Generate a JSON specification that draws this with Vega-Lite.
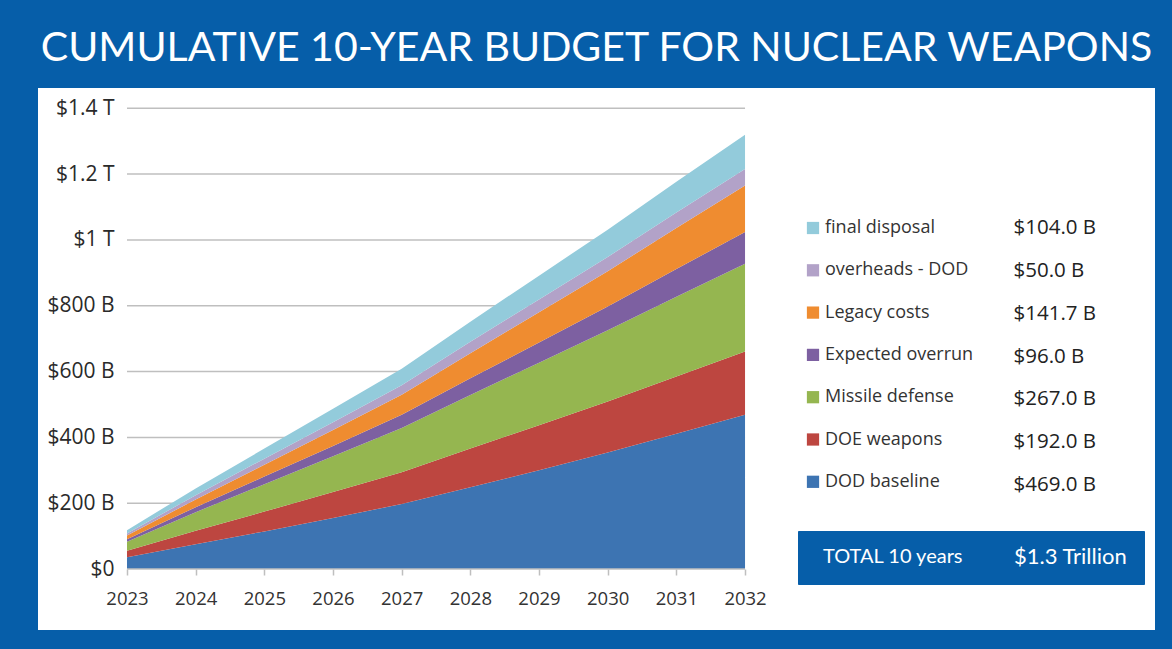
{
  "$schema": "https://vega.github.io/schema/vega-lite/v6.json",
  "width": 1117,
  "height": 542,
  "autosize": {"type": "none"},
  "padding": {"left": 38, "top": 88, "right": 17, "bottom": 19},
  "background": "#065ea9",
  "title": {
    "text": "CUMULATIVE 10-YEAR BUDGET FOR NUCLEAR WEAPONS",
    "color": "white", "font": "Lato", "fontSize": 41, "fontWeight": "normal",
    "anchor": "middle", "frame": "group", "baseline": "alphabetic", "offset": -14
  },
  "config": {"view": {"stroke": null}},
  "datasets": {
    "areas": [
      {"year": 2023, "series": "DOD baseline", "o": 1, "value": 35.4},
      {"year": 2024, "series": "DOD baseline", "o": 1, "value": 75.0},
      {"year": 2025, "series": "DOD baseline", "o": 1, "value": 114.3},
      {"year": 2026, "series": "DOD baseline", "o": 1, "value": 155.0},
      {"year": 2027, "series": "DOD baseline", "o": 1, "value": 197.6},
      {"year": 2028, "series": "DOD baseline", "o": 1, "value": 248.6},
      {"year": 2029, "series": "DOD baseline", "o": 1, "value": 300.3},
      {"year": 2030, "series": "DOD baseline", "o": 1, "value": 353.8},
      {"year": 2031, "series": "DOD baseline", "o": 1, "value": 411.0},
      {"year": 2032, "series": "DOD baseline", "o": 1, "value": 469.0},
      {"year": 2023, "series": "DOE weapons", "o": 2, "value": 20.1},
      {"year": 2024, "series": "DOE weapons", "o": 2, "value": 41.0},
      {"year": 2025, "series": "DOE weapons", "o": 2, "value": 60.2},
      {"year": 2026, "series": "DOE weapons", "o": 2, "value": 78.7},
      {"year": 2027, "series": "DOE weapons", "o": 2, "value": 96.8},
      {"year": 2028, "series": "DOE weapons", "o": 2, "value": 117.4},
      {"year": 2029, "series": "DOE weapons", "o": 2, "value": 136.7},
      {"year": 2030, "series": "DOE weapons", "o": 2, "value": 155.4},
      {"year": 2031, "series": "DOE weapons", "o": 2, "value": 174.1},
      {"year": 2032, "series": "DOE weapons", "o": 2, "value": 192.0},
      {"year": 2023, "series": "Missile defense", "o": 3, "value": 27.7},
      {"year": 2024, "series": "Missile defense", "o": 3, "value": 56.7},
      {"year": 2025, "series": "Missile defense", "o": 3, "value": 83.3},
      {"year": 2026, "series": "Missile defense", "o": 3, "value": 109.1},
      {"year": 2027, "series": "Missile defense", "o": 3, "value": 134.2},
      {"year": 2028, "series": "Missile defense", "o": 3, "value": 163.0},
      {"year": 2029, "series": "Missile defense", "o": 3, "value": 190.0},
      {"year": 2030, "series": "Missile defense", "o": 3, "value": 216.0},
      {"year": 2031, "series": "Missile defense", "o": 3, "value": 242.3},
      {"year": 2032, "series": "Missile defense", "o": 3, "value": 267.0},
      {"year": 2023, "series": "Expected overrun", "o": 4, "value": 7.1},
      {"year": 2024, "series": "Expected overrun", "o": 4, "value": 15.0},
      {"year": 2025, "series": "Expected overrun", "o": 4, "value": 23.0},
      {"year": 2026, "series": "Expected overrun", "o": 4, "value": 31.3},
      {"year": 2027, "series": "Expected overrun", "o": 4, "value": 40.1},
      {"year": 2028, "series": "Expected overrun", "o": 4, "value": 50.5},
      {"year": 2029, "series": "Expected overrun", "o": 4, "value": 61.3},
      {"year": 2030, "series": "Expected overrun", "o": 4, "value": 72.3},
      {"year": 2031, "series": "Expected overrun", "o": 4, "value": 84.3},
      {"year": 2032, "series": "Expected overrun", "o": 4, "value": 96.0},
      {"year": 2023, "series": "Legacy costs", "o": 5, "value": 11.2},
      {"year": 2024, "series": "Legacy costs", "o": 5, "value": 23.6},
      {"year": 2025, "series": "Legacy costs", "o": 5, "value": 35.8},
      {"year": 2026, "series": "Legacy costs", "o": 5, "value": 48.2},
      {"year": 2027, "series": "Legacy costs", "o": 5, "value": 61.1},
      {"year": 2028, "series": "Legacy costs", "o": 5, "value": 76.5},
      {"year": 2029, "series": "Legacy costs", "o": 5, "value": 91.9},
      {"year": 2030, "series": "Legacy costs", "o": 5, "value": 107.6},
      {"year": 2031, "series": "Legacy costs", "o": 5, "value": 124.5},
      {"year": 2032, "series": "Legacy costs", "o": 5, "value": 141.7},
      {"year": 2023, "series": "overheads - DOD", "o": 6, "value": 6.5},
      {"year": 2024, "series": "overheads - DOD", "o": 6, "value": 13.0},
      {"year": 2025, "series": "overheads - DOD", "o": 6, "value": 18.7},
      {"year": 2026, "series": "overheads - DOD", "o": 6, "value": 24.0},
      {"year": 2027, "series": "overheads - DOD", "o": 6, "value": 28.9},
      {"year": 2028, "series": "overheads - DOD", "o": 6, "value": 34.3},
      {"year": 2029, "series": "overheads - DOD", "o": 6, "value": 39.0},
      {"year": 2030, "series": "overheads - DOD", "o": 6, "value": 43.1},
      {"year": 2031, "series": "overheads - DOD", "o": 6, "value": 47.0},
      {"year": 2032, "series": "overheads - DOD", "o": 6, "value": 50.0},
      {"year": 2023, "series": "final disposal", "o": 7, "value": 10.0},
      {"year": 2024, "series": "final disposal", "o": 7, "value": 20.7},
      {"year": 2025, "series": "final disposal", "o": 7, "value": 30.6},
      {"year": 2026, "series": "final disposal", "o": 7, "value": 40.4},
      {"year": 2027, "series": "final disposal", "o": 7, "value": 50.1},
      {"year": 2028, "series": "final disposal", "o": 7, "value": 61.4},
      {"year": 2029, "series": "final disposal", "o": 7, "value": 72.3},
      {"year": 2030, "series": "final disposal", "o": 7, "value": 82.9},
      {"year": 2031, "series": "final disposal", "o": 7, "value": 93.9},
      {"year": 2032, "series": "final disposal", "o": 7, "value": 104.0}
    ],
    "grid": [{"v": 200}, {"v": 400}, {"v": 600}, {"v": 800}, {"v": 1000}, {"v": 1200}, {"v": 1400}],
    "totals": [
      {"series": "final disposal", "amount": "$104.0 B"},
      {"series": "overheads - DOD", "amount": "$50.0 B"},
      {"series": "Legacy costs", "amount": "$141.7 B"},
      {"series": "Expected overrun", "amount": "$96.0 B"},
      {"series": "Missile defense", "amount": "$267.0 B"},
      {"series": "DOE weapons", "amount": "$192.0 B"},
      {"series": "DOD baseline", "amount": "$469.0 B"}
    ],
    "overall": [{"label": "TOTAL 10 years", "amount": "$1.3 Trillion"}]
  },
  "layer": [
    {
      "data": {"values": [{"panel": "white"}]},
      "mark": {"type": "rect", "color": "white"},
      "encoding": {}
    },
    {
      "data": {"name": "grid"},
      "mark": {"type": "rule", "color": "#bfbfbf", "strokeWidth": 1.5},
      "encoding": {
        "x": {"datum": 2023, "type": "quantitative", "scale": {"domain": [2021.704, 2037.97], "nice": false, "zero": false}},
        "x2": {"datum": 2032},
        "y": {"field": "v", "type": "quantitative", "scale": {"domain": [-185.3, 1461.7], "nice": false, "zero": false}}
      }
    },
    {
      "data": {"name": "areas"},
      "mark": {"type": "area", "interpolate": "linear"},
      "encoding": {
        "x": {
          "field": "year", "type": "quantitative",
          "scale": {"domain": [2021.704, 2037.97], "nice": false, "zero": false},
          "axis": {
            "orient": "bottom", "offset": -61, "title": null, "zindex": 2,
            "values": [2023, 2024, 2025, 2026, 2027, 2028, 2029, 2030, 2031, 2032],
            "format": "d", "domain": false, "grid": false,
            "ticks": true, "tickSize": 6, "tickColor": "#bfbfbf", "tickWidth": 1.5,
            "labelFont": "Open Sans", "labelFontSize": 18.5, "labelColor": "#333333",
            "labelPadding": 14, "labelFlush": false, "labelOverlap": false
          }
        },
        "y": {
          "field": "value", "type": "quantitative", "stack": "zero",
          "scale": {"domain": [-185.3, 1461.7], "nice": false, "zero": false},
          "axis": {
            "orient": "left", "offset": -89, "title": null, "zindex": 2,
            "values": [0, 200, 400, 600, 800, 1000, 1200, 1400],
            "domain": false, "grid": false, "ticks": false, "tickSize": 0,
            "labelPadding": 13, "labelFont": "Open Sans", "labelFontSize": 21,
            "labelColor": "#2a2a2a", "labelFlush": false, "labelOverlap": false,
            "labelExpr": "datum.value == 0 ? '$0' : (datum.value >= 1000 ? '$' + (datum.value / 1000) + ' T' : '$' + datum.value + ' B')"
          }
        },
        "color": {
          "field": "series", "type": "nominal",
          "scale": {
            "domain": ["final disposal", "overheads - DOD", "Legacy costs", "Expected overrun", "Missile defense", "DOE weapons", "DOD baseline"],
            "range": ["#93cbdb", "#b2a2c8", "#ef8c30", "#7d60a1", "#95b650", "#bd4640", "#3d74b2"]
          },
          "legend": {
            "orient": "none", "legendX": 766, "legendY": 131, "title": null,
            "padding": 0, "symbolType": "square", "symbolSize": 150, "symbolStrokeWidth": 0,
            "symbolOpacity": 1, "labelFont": "Open Sans", "labelFontSize": 18,
            "labelColor": "#333333", "labelOffset": 3, "rowPadding": 24.3, "labelLimit": 300
          }
        },
        "order": {"field": "o", "type": "quantitative"}
      }
    },
    {
      "data": {"values": [{"z": 0}]},
      "mark": {"type": "rule", "color": "#bfbfbf", "strokeWidth": 1.5},
      "encoding": {
        "x": {"datum": 2023, "type": "quantitative", "scale": {"domain": [2021.704, 2037.97], "nice": false, "zero": false}},
        "x2": {"datum": 2032},
        "y": {"field": "z", "type": "quantitative", "scale": {"domain": [-185.3, 1461.7], "nice": false, "zero": false}}
      }
    },
    {
      "data": {"name": "totals"},
      "mark": {"type": "point", "opacity": 0},
      "encoding": {
        "shape": {
          "field": "amount", "type": "nominal",
          "scale": {"domain": ["$104.0 B", "$50.0 B", "$141.7 B", "$96.0 B", "$267.0 B", "$192.0 B", "$469.0 B"]},
          "legend": {
            "orient": "none", "legendX": 955, "legendY": 130, "title": null,
            "padding": 0, "symbolSize": 0, "symbolOpacity": 0, "symbolStrokeWidth": 0,
            "labelOffset": 0, "labelFont": "Open Sans", "labelFontSize": 20.5,
            "labelColor": "#222222", "rowPadding": 21.8, "labelLimit": 300
          }
        }
      }
    },
    {
      "data": {"name": "overall"},
      "mark": {"type": "point", "opacity": 0},
      "encoding": {
        "strokeDash": {
          "field": "label", "type": "nominal",
          "legend": {
            "orient": "none", "legendX": 760, "legendY": 443,
            "title": "$1.3 Trillion", "titleOrient": "right", "titlePadding": 50,
            "titleFont": "Lato", "titleFontSize": 22, "titleFontWeight": "normal", "titleColor": "white",
            "fillColor": "#065ea9", "strokeColor": "#065ea9", "padding": 16,
            "symbolSize": 0, "symbolOpacity": 0, "symbolStrokeWidth": 0,
            "labelOffset": -11, "labelFont": "Lato", "labelFontSize": 20, "labelColor": "white", "labelLimit": 300
          }
        }
      }
    }
  ]
}
